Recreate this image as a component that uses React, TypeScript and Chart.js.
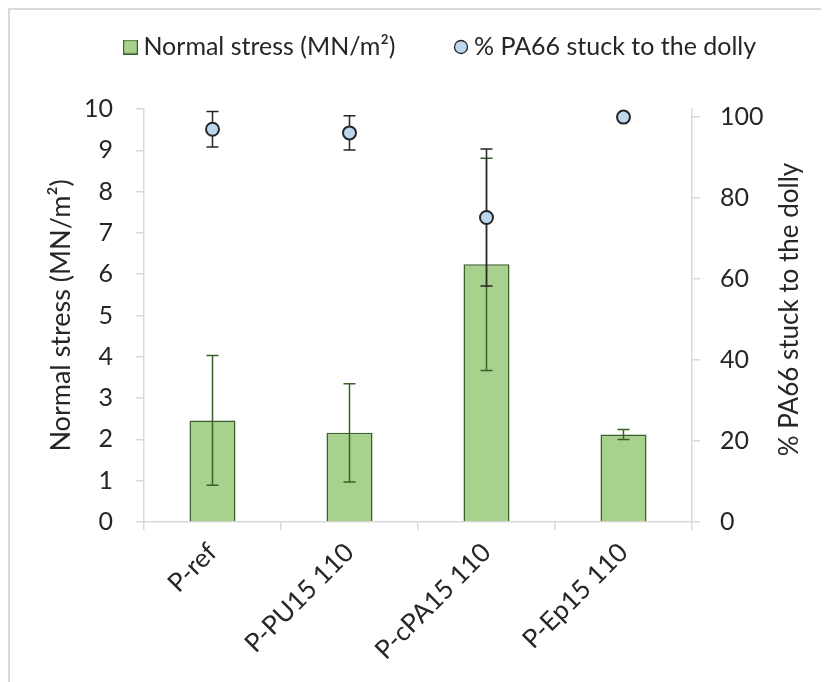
import React, { useEffect, useRef } from 'react';
import { Chart, registerables } from 'chart.js';

Chart.register(...registerables);

const categories = ['P-ref', 'P-PU15 110', 'P-cPA15 110', 'P-Ep15 110'];
const stressValues = [2.46, 2.16, 6.24, 2.12];
const stressErrors = [1.57, 1.19, 2.57, 0.12];
const pa66Values = [97.0, 96.1, 75.2, 100];
const pa66Errors = [4.4, 4.25, 16.9, 0];
const rightTicks = [0, 20, 40, 60, 80, 100];
const stressLabel = 'Normal stress (MN/m²)';
const pa66Label = '% PA66 stuck to the dolly';

const FONT = 'Lato';
const TEXT = '#262626';
const AXIS = '#d9d9d9';
const BAR_FILL = '#A9D18E';
const BAR_EDGE = '#3A5F2A';
const DOT_FILL = '#BDD7EE';
const DOT_EDGE = '#262626';

function makeLegendDot() {
  const c = document.createElement('canvas');
  c.width = 16;
  c.height = 16;
  const g = c.getContext('2d');
  if (g) {
    g.beginPath();
    g.arc(8, 8, 6.5, 0, Math.PI * 2);
    g.fillStyle = DOT_FILL;
    g.fill();
    g.lineWidth = 1.3;
    g.strokeStyle = DOT_EDGE;
    g.stroke();
  }
  return c;
}

function makeLegendSquare() {
  const c = document.createElement('canvas');
  c.width = 15;
  c.height = 15;
  const g = c.getContext('2d');
  if (g) {
    g.fillStyle = BAR_FILL;
    g.fillRect(0.5, 0.5, 14, 14);
    g.lineWidth = 1.2;
    g.strokeStyle = BAR_EDGE;
    g.strokeRect(0.6, 0.6, 13.8, 13.8);
  }
  return c;
}

const errorBars = {
  id: 'errorBars',
  afterDatasetDraw(chart: any, args: any) {
    if (args.index !== 0) return;
    const ctx = chart.ctx;
    const ys = chart.scales.y;
    ctx.save();
    ctx.strokeStyle = BAR_EDGE;
    ctx.lineWidth = 1.5;
    args.meta.data.forEach((el: any, i: number) => {
      const e = stressErrors[i];
      if (!e) return;
      const x = el.x;
      const t = ys.getPixelForValue(stressValues[i] + e);
      const b = ys.getPixelForValue(stressValues[i] - e);
      ctx.beginPath();
      ctx.moveTo(x, t); ctx.lineTo(x, b);
      ctx.moveTo(x - 6, t); ctx.lineTo(x + 6, t);
      ctx.moveTo(x - 6, b); ctx.lineTo(x + 6, b);
      ctx.stroke();
    });
    ctx.restore();
  },
  beforeDatasetDraw(chart: any, args: any) {
    if (args.index !== 1) return;
    const ctx = chart.ctx;
    const ys = chart.scales.y1;
    ctx.save();
    ctx.strokeStyle = DOT_EDGE;
    ctx.lineWidth = 1.5;
    args.meta.data.forEach((el: any, i: number) => {
      const e = pa66Errors[i];
      if (!e) return;
      const x = el.x;
      const t = ys.getPixelForValue(pa66Values[i] + e);
      const b = ys.getPixelForValue(pa66Values[i] - e);
      ctx.beginPath();
      ctx.moveTo(x, t); ctx.lineTo(x, b);
      ctx.moveTo(x - 6, t); ctx.lineTo(x + 6, t);
      ctx.moveTo(x - 6, b); ctx.lineTo(x + 6, b);
      ctx.stroke();
    });
    ctx.restore();
  },
};

const LEGEND_CENTER_X = 433;
const LEGEND_TEXT_Y = 37;
const LEGEND_BLOCK_HEIGHT = 99;

const legendPlace = {
  id: 'legendPlace',
  beforeLayout(chart: any) {
    const l = chart.legend;
    if (!l || l.__patched) return;
    const orig = l.fit;
    l.fit = function () {
      orig.call(this);
      this.height = LEGEND_BLOCK_HEIGHT;
    };
    l.__patched = true;
  },
  afterLayout(chart: any) {
    const l = chart.legend;
    if (!l) return;
    const pad = l.options.labels.padding;
    const size = l.options.labels.font.size;
    const dy = LEGEND_TEXT_Y - (l.top + pad + size / 2);
    const dx = LEGEND_CENTER_X - (l.left + l.right) / 2;
    l.left += dx; l.right += dx;
    l.top += dy; l.bottom += dy;
  },
};

const rightTitle = {
  id: 'rightTitle',
  afterDraw(chart: any) {
    const ctx = chart.ctx;
    const a = chart.chartArea;
    ctx.save();
    ctx.translate(788, (a.top + a.bottom) / 2 - 6);
    ctx.rotate(-Math.PI / 2);
    ctx.font = `26px ${FONT}`;
    ctx.fillStyle = TEXT;
    ctx.textAlign = 'center';
    ctx.textBaseline = 'alphabetic';
    ctx.fillText(pa66Label, 0, 0);
    ctx.restore();
  },
};

export default function App() {
  const ref = useRef<HTMLCanvasElement | null>(null);

  useEffect(() => {
    if (!ref.current) return;
    const dot = makeLegendDot();
    const square = makeLegendSquare();
    const tickFont = { family: FONT, size: 25 };
    const chart = new Chart(ref.current, {
      type: 'bar',
      data: {
        labels: categories,
        datasets: [
          {
            type: 'bar',
            label: stressLabel,
            data: stressValues,
            backgroundColor: BAR_FILL,
            borderColor: BAR_EDGE,
            borderWidth: 1.5,
            barPercentage: 0.336,
            categoryPercentage: 1,
            yAxisID: 'y',
            order: 1,
          } as any,
          {
            type: 'line',
            label: pa66Label,
            data: pa66Values,
            showLine: false,
            pointRadius: 6.5,
            pointHoverRadius: 6.5,
            pointBackgroundColor: DOT_FILL,
            pointBorderColor: DOT_EDGE,
            pointBorderWidth: 2,
            backgroundColor: DOT_FILL,
            borderColor: DOT_EDGE,
            yAxisID: 'y1',
            order: 0,
          } as any,
        ],
      },
      options: {
        responsive: false,
        animation: false,
        layout: { padding: { top: 0, left: 0, right: 0, bottom: 0 } },
        font: { family: FONT },
        color: TEXT,
        plugins: {
          tooltip: { enabled: false },
          legend: {
            position: 'top',
            labels: {
              usePointStyle: true,
              boxWidth: 1,
              boxHeight: 14,
              padding: 65,
              color: TEXT,
              font: { family: FONT, size: 25 },
              sort: (a: any, b: any) => a.datasetIndex - b.datasetIndex,
              generateLabels: (c: any) => {
                const items = (Chart.defaults as any).plugins.legend.labels.generateLabels(c);
                items.forEach((it: any) => {
                  it.pointStyle = it.datasetIndex === 1 ? dot : square;
                });
                return items;
              },
            },
          },
        },
        scales: {
          x: {
            offset: true,
            grid: {
              display: true,
              offset: true,
              drawOnChartArea: false,
              drawTicks: true,
              tickLength: 8,
              color: AXIS,
              lineWidth: 1.5,
            },
            border: { display: true, color: AXIS, width: 1.5 },
            ticks: {
              autoSkip: false,
              maxRotation: 45,
              minRotation: 45,
              padding: 7,
              color: TEXT,
              font: { family: FONT, size: 26 },
            },
            afterFit: (s: any) => { s.height = 160; },
          },
          y: {
            position: 'left',
            min: 0,
            max: 10,
            grid: {
              drawOnChartArea: false,
              drawTicks: true,
              tickLength: 8,
              color: AXIS,
              lineWidth: 1.5,
            },
            border: { display: true, color: AXIS, width: 1.5 },
            ticks: { stepSize: 1, padding: 23, color: TEXT, font: tickFont },
            title: {
              display: true,
              text: stressLabel,
              color: TEXT,
              font: { family: FONT, size: 27 },
              padding: { top: 35, bottom: 0 },
            },
            afterFit: (s: any) => { s.width = 134; },
          },
          y1: {
            position: 'right',
            min: 0,
            max: 102,
            grid: {
              drawOnChartArea: false,
              drawTicks: true,
              tickLength: 8,
              color: AXIS,
              lineWidth: 1.5,
            },
            border: { display: true, color: AXIS, width: 1.5 },
            ticks: { padding: 20, color: TEXT, font: tickFont },
            afterBuildTicks: (s: any) => { s.ticks = rightTicks.map((v) => ({ value: v })); },
            afterFit: (s: any) => { s.width = 137; },
          },
        },
      } as any,
      plugins: [errorBars, legendPlace, rightTitle],
    });
    return () => chart.destroy();
  }, []);

  return (
    <div
      style={{
        width: 819,
        height: 672,
        borderTop: '2px solid #dadada',
        borderLeft: '2px solid #dadada',
        background: '#ffffff',
      }}
    >
      <canvas ref={ref} width={819} height={672} style={{ display: 'block', width: 819, height: 672 }} />
    </div>
  );
}
